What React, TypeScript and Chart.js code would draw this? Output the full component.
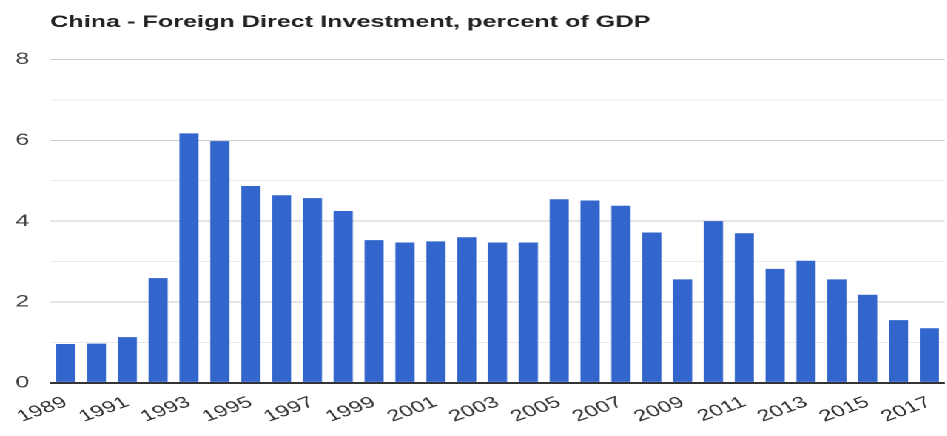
import React, { useEffect, useRef } from "react";
import { Chart, registerables } from "chart.js";

Chart.register(...registerables);

const TITLE = "China - Foreign Direct Investment, percent of GDP";

const years: string[] = [
  "1989", "1990", "1991", "1992", "1993", "1994", "1995", "1996", "1997", "1998",
  "1999", "2000", "2001", "2002", "2003", "2004", "2005", "2006", "2007", "2008",
  "2009", "2010", "2011", "2012", "2013", "2014", "2015", "2016", "2017",
];

const fdiPercentGdp: number[] = [
  0.96, 0.97, 1.13, 2.59, 6.17, 5.98, 4.87, 4.64, 4.57, 4.25,
  3.53, 3.47, 3.50, 3.60, 3.47, 3.47, 4.54, 4.51, 4.38, 3.72,
  2.56, 4.0, 3.70, 2.82, 3.02, 2.56, 2.18, 1.55, 1.35,
];

const yMin = 0;
const yMax = 8;

const FONT = "'Liberation Sans', Arial, sans-serif";

// The reference image is stretched horizontally; draw at a narrower logical width and stretch.
const STRETCH = 1.48;
const PAGE_W = 947;
const PAGE_H = 436;
const Y_TICK_PAD = 14;

export default function App() {
  const canvasRef = useRef<HTMLCanvasElement | null>(null);

  useEffect(() => {
    if (!canvasRef.current) return;
    const chart = new Chart(canvasRef.current, {
      type: "bar",
      data: {
        labels: years,
        datasets: [
          {
            data: fdiPercentGdp,
            backgroundColor: "#3366cc",
            borderWidth: 0,
            barPercentage: 0.62,
            categoryPercentage: 1.0,
          },
        ],
      },
      options: {
        animation: false,
        responsive: true,
        maintainAspectRatio: false,
        devicePixelRatio: 2,
        layout: { padding: { left: 10.4, right: 2, top: 0, bottom: 7.5 } },
        plugins: {
          legend: { display: false },
          tooltip: { enabled: false },
          title: {
            display: true,
            text: TITLE,
            align: "start",
            fullSize: false,
            color: "#222",
            font: { family: FONT, size: 17, weight: "bold" },
            padding: { top: 12, bottom: 27 },
          },
        },
        scales: {
          x: {
            grid: { display: false },
            border: { display: false },
            afterFit: (scale: any) => {
              scale.paddingLeft = 0;
              scale.paddingRight = 0;
            },
            ticks: {
              autoSkip: false,
              maxRotation: 28,
              minRotation: 28,
              color: "#333",
              font: { family: FONT, size: 16 },
              padding: 2,
              callback: (_v: any, i: number) => (i % 2 === 0 ? years[i] : ""),
            },
          },
          y: {
            min: yMin,
            max: yMax,
            border: { display: false },
            afterFit: (scale: any) => {
              scale.width = scale.width - Y_TICK_PAD;
            },
            grid: {
              drawTicks: false,
              color: (ctx: any) => {
                const v = ctx.tick ? ctx.tick.value : 0;
                if (v === 0) return "#333";
                return v % 2 === 0 ? "#cccccc" : "#ebebeb";
              },
              lineWidth: (ctx: any) => (ctx.tick && ctx.tick.value === 0 ? 2 : 1),
            },
            ticks: {
              stepSize: 1,
              padding: Y_TICK_PAD,
              color: "#444",
              font: { family: FONT, size: 17 },
              callback: (v: any) => (Number(v) % 2 === 0 ? String(v) : ""),
            },
          },
        },
      },
    });
    return () => chart.destroy();
  }, []);

  return (
    <div
      style={{
        position: "fixed",
        left: 0,
        top: 0,
        width: PAGE_W / STRETCH,
        height: PAGE_H,
        background: "#fff",
        transform: `scaleX(${STRETCH})`,
        transformOrigin: "0 0",
      }}
    >
      <canvas ref={canvasRef} />
    </div>
  );
}
